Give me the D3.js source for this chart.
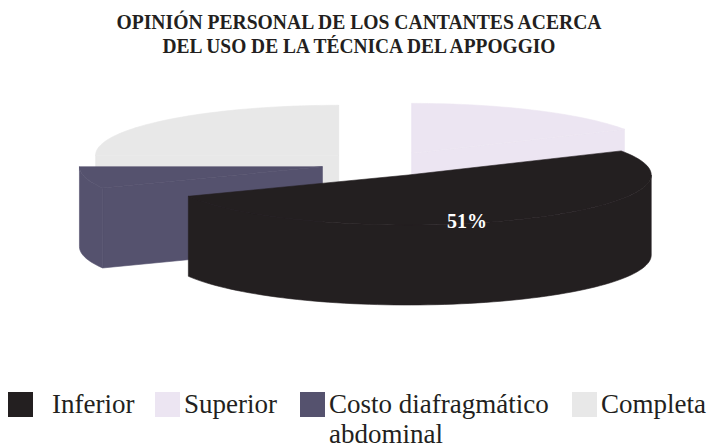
<!DOCTYPE html>
<html>
<head>
<meta charset="utf-8">
<script src="https://cdn.jsdelivr.net/npm/d3@7"></script>
<style>
  body { margin: 0; background: #fff; }
  svg { display: block; }
  text { font-family: "Liberation Serif", "Times New Roman", Times, "DejaVu Serif", serif; }
</style>
</head>
<body>
<svg id="chart" width="708" height="448"></svg>
<script>
// Chart data
const titleLines = ["OPINIÓN PERSONAL DE LOS CANTANTES ACERCA", "DEL USO DE LA TÉCNICA DEL APPOGGIO"];
const categories = ["Inferior", "Superior", "Costo diafragmático abdominal", "Completa"];
const values = [51, 17, 7, 25];
const colors = ["#231F20", "#ECE5F2", "#55526E", "#E8E8E8"];
const labelled = [true, false, false, false];
// clockwise order of the slices, starting at 12 o'clock
const pieOrder = [1, 0, 2, 3];

// Layout
const rx = 243, ry = 50, depth = 80;
const cx0 = 381, cy0 = 164;
const explode = 60;
const legendX = [8, 155, 300, 572];

const svg = d3.select("#chart");

// Title
svg.append("g").selectAll("text")
    .data(titleLines)
    .enter().append("text")
    .attr("x", 359)
    .attr("y", (d, i) => 29 + i * 24)
    .attr("text-anchor", "middle")
    .attr("textLength", (d, i) => i === 0 ? 485 : 393)
    .attr("lengthAdjust", "spacingAndGlyphs")
    .style("font-weight", "bold")
    .style("font-size", "21px")
    .style("fill", "#231F20")
    .text(d => d);

// Pie angles
const arcs = d3.pie()
    .value(i => values[i])
    .sort(null)
    .startAngle(0)
    .endAngle(2 * Math.PI)(pieOrder);

const slices = arcs.map(a => {
    const i = a.data;
    const mid = (a.startAngle + a.endAngle) / 2;
    return {
        i: i,
        a0: a.startAngle,
        a1: a.endAngle,
        mid: mid,
        cx: cx0 + explode * Math.sin(mid),
        cy: cy0 - explode * (ry / rx) * Math.cos(mid)
    };
});

// point on the tilted disc of a slice: angle t, radius fraction r, drop h
function pt(s, t, r, h) {
    return [s.cx + r * rx * Math.sin(t), s.cy - r * ry * Math.cos(t) + (h || 0)];
}

function arcPoints(s, t0, t1, h) {
    const n = Math.max(2, Math.ceil(Math.abs(t1 - t0) / (Math.PI / 90)));
    return d3.range(n + 1).map(k => pt(s, t0 + (t1 - t0) * k / n, 1, h));
}

const line = d3.line();

// back slices first
slices.sort((a, b) => a.cy - b.cy);

const pie = svg.append("g").attr("class", "pie");

slices.forEach(s => {
    const g = pie.append("g").attr("class", "slice");
    const fill = colors[s.i];
    const c = [s.cx, s.cy], cb = [s.cx, s.cy + depth];

    // radial cut faces that face the viewer
    if (Math.sin(s.a0) < 0) {
        const p = pt(s, s.a0, 1), pb = pt(s, s.a0, 1, depth);
        g.append("path").attr("d", line([c, p, pb, cb]) + "Z")
            .attr("fill", fill).attr("stroke", fill).attr("stroke-width", 0.6);
    }
    if (Math.sin(s.a1) > 0) {
        const p = pt(s, s.a1, 1), pb = pt(s, s.a1, 1, depth);
        g.append("path").attr("d", line([c, p, pb, cb]) + "Z")
            .attr("fill", fill).attr("stroke", fill).attr("stroke-width", 0.6);
    }

    // outer wall, front half only
    const w0 = Math.max(s.a0, Math.PI / 2), w1 = Math.min(s.a1, 3 * Math.PI / 2);
    if (w1 > w0) {
        const top = arcPoints(s, w0, w1, 0);
        const bottom = arcPoints(s, w1, w0, depth);
        g.append("path").attr("d", line(top.concat(bottom)) + "Z")
            .attr("fill", fill).attr("stroke", fill).attr("stroke-width", 0.6);
    }

    // top face
    g.append("path").attr("d", line([c].concat(arcPoints(s, s.a0, s.a1, 0))) + "Z")
        .attr("fill", fill).attr("stroke", fill).attr("stroke-width", 0.6);

    if (labelled[s.i]) {
        const lp = pt(s, s.mid, 0.55);
        g.append("text")
            .attr("x", lp[0] - 2)
            .attr("y", lp[1] + 28)
            .attr("text-anchor", "middle")
            .style("font-weight", "bold")
            .style("font-size", "20px")
            .style("fill", "#fff")
            .text(values[s.i] + "%");
    }
});

// Legend
const legend = svg.append("g").attr("class", "legend");
categories.forEach((cat, i) => {
    const item = legend.append("g").attr("transform", `translate(${legendX[i]},392)`);
    item.append("rect")
        .attr("width", 25)
        .attr("height", 25)
        .attr("fill", colors[i]);
    const words = cat === "Costo diafragmático abdominal"
        ? ["Costo diafragmático", "abdominal"] : [cat];
    item.selectAll("text")
        .data(words)
        .enter().append("text")
        .attr("x", i === 0 ? 44 : 29)
        .attr("y", (d, k) => 21 + k * 30)
        .style("font-size", "27px")
        .style("fill", "#231F20")
        .text(d => d);
});
</script>
</body>
</html>
